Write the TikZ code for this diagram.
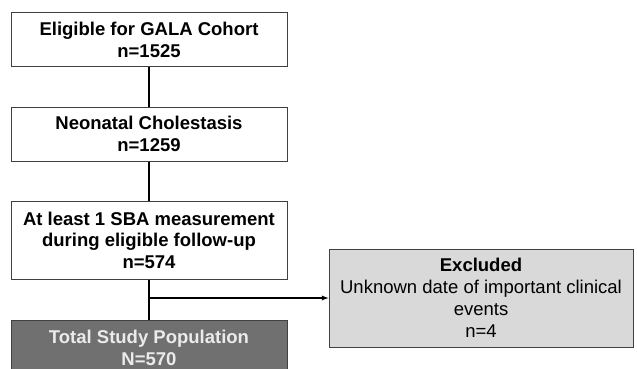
\documentclass[tikz,border=0pt]{standalone}
\usepackage{fontspec}
\setmainfont{Liberation Sans}
\usepackage{xcolor}
\usepackage{tikz}
\definecolor{boxline}{HTML}{404040}
\definecolor{darkfill}{HTML}{707070}
\definecolor{lightfill}{HTML}{D9D9D9}
\tikzset{
  flowbox/.style={draw=boxline, line width=1pt, fill=white, minimum width=276pt, align=center, font=\bfseries\fontsize{18.5}{21.5}\selectfont, inner sep=2pt},
  link/.style={draw=black, line width=1.8pt}
}

\begin{document}
\begin{tikzpicture}[x=1pt,y=-1pt]
\useasboundingbox (0,0) rectangle (637,369);
\clip (0,0) rectangle (637,369);
\node[flowbox, minimum height=54pt] (elig) at (149,40) {Eligible for GALA Cohort\\n=1525};
\node[flowbox, minimum height=54pt] (chol) at (149,134) {Neonatal Cholestasis\\n=1259};
\node[flowbox, minimum height=78pt] (sba) at (149,240) {At least 1 SBA measurement\\during eligible follow-up\\n=574};
\node[flowbox, minimum height=56pt, fill=darkfill, text=white!92!black] (total) at (149,348) {Total Study Population\\N=570};
\node[flowbox, minimum width=304pt, minimum height=98pt, fill=lightfill, font=\fontsize{18.5}{22}\selectfont] (excl) at (481,298) {\textbf{Excluded}\\Unknown date of important clinical\\events\\n=4};
\draw[link] (elig) -- (chol);
\draw[link] (chol) -- (sba);
\draw[link] (sba) -- (total);
\coordinate (split) at (sba.south |- excl.west);
\draw[link, line width=1.3pt, -latex] (split) -- (excl);
\end{tikzpicture}
\end{document}
